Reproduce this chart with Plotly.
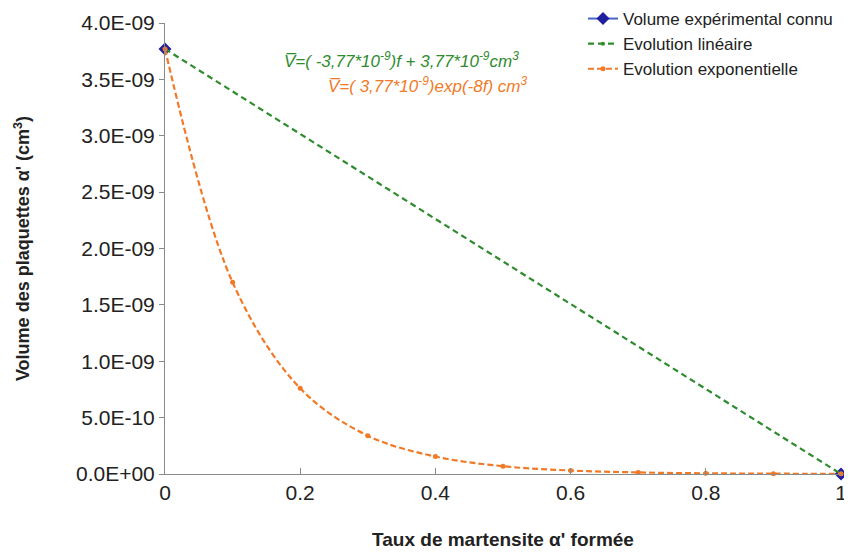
import plotly.graph_objects as go

# ---- data ----
exp_x = [0, None, 1]
exp_y = [3.77e-9, None, 0.0]

lin_x = [0, 1]
lin_y = [3.77e-9, 0.0]

expo_x = [0, 0.1, 0.2, 0.3, 0.4, 0.5, 0.6, 0.7, 0.8, 0.9, 1.0]
expo_y = [3.77e-9, 1.70e-9, 0.76e-9, 0.34e-9, 0.155e-9, 0.069e-9,
          0.031e-9, 0.014e-9, 0.006e-9, 0.003e-9, 0.0013e-9]

y_tickvals = [0, 0.5e-9, 1.0e-9, 1.5e-9, 2.0e-9, 2.5e-9, 3.0e-9, 3.5e-9, 4.0e-9]
y_ticktext = ["0.0E+00", "5.0E-10", "1.0E-09", "1.5E-09", "2.0E-09",
              "2.5E-09", "3.0E-09", "3.5E-09", "4.0E-09"]
x_tickvals = [0, 0.2, 0.4, 0.6, 0.8, 1]
x_ticktext = ["0", "0.2", "0.4", "0.6", "0.8", "1"]

names = ["Volume expérimental connu", "Evolution linéaire", "Evolution exponentielle"]

FONT = "Liberation Sans, Arial, sans-serif"
GREEN = "#2e8b2e"
ORANGE = "#f07a28"

fig = go.Figure()
fig.add_trace(go.Scatter(
    x=exp_x, y=exp_y, name=names[0], mode="lines+markers", connectgaps=False,
    line=dict(color="#4a63c8", width=2),
    marker=dict(symbol="diamond", size=10, color="#1f1fa0"),
    cliponaxis=False))
fig.add_trace(go.Scatter(
    x=lin_x, y=lin_y, name=names[1], mode="lines+markers",
    line=dict(color=GREEN, width=2.2, dash="6px,4px"),
    marker=dict(symbol="circle", size=4, color=GREEN),
    cliponaxis=False))
fig.add_trace(go.Scatter(
    x=expo_x, y=expo_y, name=names[2], mode="lines+markers",
    line=dict(color=ORANGE, width=2.2, dash="6px,3px", shape="spline"),
    marker=dict(symbol="circle", size=5, color=ORANGE),
    cliponaxis=False))

# pixel layout (page body has an 8px margin)
OFF = 8
PL, PR, PT, PB = 165, 841, 23, 474   # plot area in window pixels
W, H = 852 - OFF, 555 - OFF
L, T = PL - OFF, PT - OFF
pw, ph = PR - PL, PB - PT
R, B = W - L - pw, H - T - ph

ann_texts = [
    "<i>V\u0305=( -3,77*10<sup>-9</sup>)f + 3,77*10<sup>-9</sup>cm<sup>3</sup></i>",
    "<i>V\u0305=( 3,77*10<sup>-9</sup>)exp(-8f) cm<sup>3</sup></i>",
]
ann_pos = [(401, 47), (427, 72)]
ann_col = [GREEN, ORANGE]
for txt, (px, py), col in zip(ann_texts, ann_pos, ann_col):
    fig.add_annotation(
        x=(px - PL) / pw, y=1 - (py - PT) / ph, xref="paper", yref="paper",
        showarrow=False, text=txt,
        font=dict(family=FONT, size=17, color=col))

fig.update_layout(
    width=W, height=H,
    margin=dict(l=L, r=R, t=T, b=B, autoexpand=False),
    paper_bgcolor="white", plot_bgcolor="white",
    font=dict(family=FONT, color="#222222"),
    showlegend=True,
    legend=dict(x=(583 - PL) / pw, y=1 + (PT - 1) / ph, xanchor="left", yanchor="top",
                bgcolor="rgba(255,255,255,0)", font=dict(size=17, color="#222222"),
                tracegroupgap=0, itemwidth=30),
    xaxis=dict(range=[0, 1], tickvals=x_tickvals, ticktext=x_ticktext,
               showgrid=False, zeroline=False, showline=True, linecolor="#8a8a8a",
               linewidth=1, ticks="inside", ticklen=6, tickcolor="#8a8a8a",
               tickfont=dict(size=21, color="#222222"),
               title=dict(text="<b>Taux de martensite α' formée</b>", font=dict(size=19),
                          standoff=29)),
    yaxis=dict(range=[0, 4.0e-9], tickvals=y_tickvals, ticktext=y_ticktext,
               showgrid=False, zeroline=False, showline=True, linecolor="#8a8a8a",
               linewidth=1, ticks="outside", ticklen=5, tickcolor="#8a8a8a",
               tickfont=dict(size=21, color="#222222"),
               title=dict(text="<b>Volume des plaquettes α' (cm<sup>3</sup>)</b>",
                          font=dict(size=18), standoff=41)),
)

fig.write_html("out.html")
